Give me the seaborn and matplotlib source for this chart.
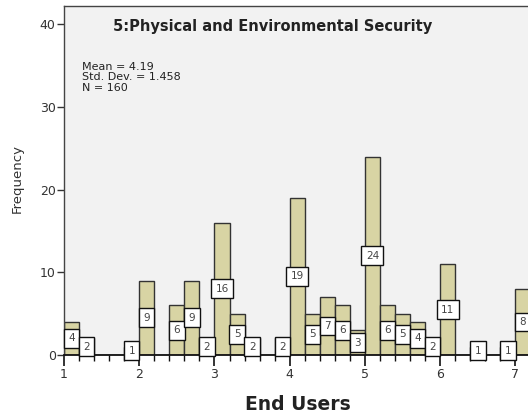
import matplotlib
matplotlib.use("Agg")
import matplotlib.pyplot as plt
import seaborn as sns
import numpy as np
import pandas as pd
from matplotlib.ticker import MultipleLocator

# ---- data (histogram bins of width 0.2) ----
bin_starts = [1.0, 1.2, 1.4, 1.6, 1.8, 2.0, 2.2, 2.4, 2.6, 2.8,
              3.0, 3.2, 3.4, 3.6, 3.8, 4.0, 4.2, 4.4, 4.6, 4.8,
              5.0, 5.2, 5.4, 5.6, 5.8, 6.0, 6.2, 6.4, 6.6, 6.8, 7.0]
counts = [4, 2, 0, 0, 1, 9, 0, 6, 9, 2,
          16, 5, 2, 0, 2, 19, 5, 7, 6, 3,
          24, 6, 5, 4, 2, 11, 0, 1, 0, 1, 8]
bin_width = 0.2
title = "5:Physical and Environmental Security"
stats_lines = ["Mean = 4.19", "Std. Dev. = 1.458", "N = 160"]
y_ticks = [0, 10, 20, 30, 40]
x_ticks = [1, 2, 3, 4, 5, 6, 7]

df = pd.DataFrame({"x": [b + bin_width / 2 for b in bin_starts], "n": counts})

sns.set_theme(style="white")
plt.rcParams["font.family"] = ["DejaVu Sans"]

fig = plt.figure(figsize=(5.28, 4.18), dpi=100)
fig.patch.set_facecolor("white")
ax = fig.add_axes([64 / 528, 63 / 418, 468 / 528, 349 / 418])
ax.set_facecolor("#F2F2F2")

sns.histplot(data=df, x="x", weights="n", binwidth=bin_width,
             binrange=(bin_starts[0], bin_starts[-1] + bin_width),
             color="#D8D4A4", alpha=1, edgecolor="#333333", linewidth=1.0, ax=ax)

ax.set_xlim(1.0, 7.22)
ax.set_ylim(0, 42.2)

# value labels in white boxes at mid-height
for xc, n in zip(df["x"], df["n"]):
    if n > 0:
        ax.text(xc, n / 2, str(n), ha="center", va="center", fontsize=7.5,
                color="#444444", zorder=5,
                bbox=dict(boxstyle="square,pad=0.42", fc="white", ec="#111111", lw=1.0))

ax.set_yticks(y_ticks)
ax.set_xticks(x_ticks)
ax.xaxis.set_minor_locator(MultipleLocator(0.2))
ax.tick_params(axis="y", which="major", direction="out", length=5, width=1,
               color="#333333", labelsize=9, labelcolor="#333333", pad=1, left=True)
ax.tick_params(axis="x", which="major", direction="out", length=8, width=1.2,
               color="#111111", labelsize=9, labelcolor="#333333", pad=1, bottom=True)
ax.tick_params(axis="x", which="minor", direction="out", length=4, width=1,
               color="#111111", bottom=True)

for side in ["left", "top", "right"]:
    ax.spines[side].set_color("#444444")
    ax.spines[side].set_linewidth(1.0)
ax.spines["bottom"].set_color("#111111")
ax.spines["bottom"].set_linewidth(1.3)
ax.set_xlabel("")
ax.set_ylabel("")

fig.text(113 / 528, 1 - 27 / 418, title, ha="left", va="center",
         fontsize=10.5, fontweight="bold", color="#222222")
for i, line in enumerate(stats_lines):
    fig.text(82 / 528, 1 - (67 + 10.3 * i) / 418, line, ha="left", va="center",
             fontsize=8, color="#222222")
fig.text(17 / 528, 1 - 179 / 418, "Frequency", rotation=90, ha="center",
         va="center", fontsize=9.5, color="#333333")
fig.text(298 / 528, 1 - 404 / 418, "End Users", ha="center", va="center",
         fontsize=13.5, fontweight="bold", color="#222222")

fig.savefig("out.png", dpi=100)
